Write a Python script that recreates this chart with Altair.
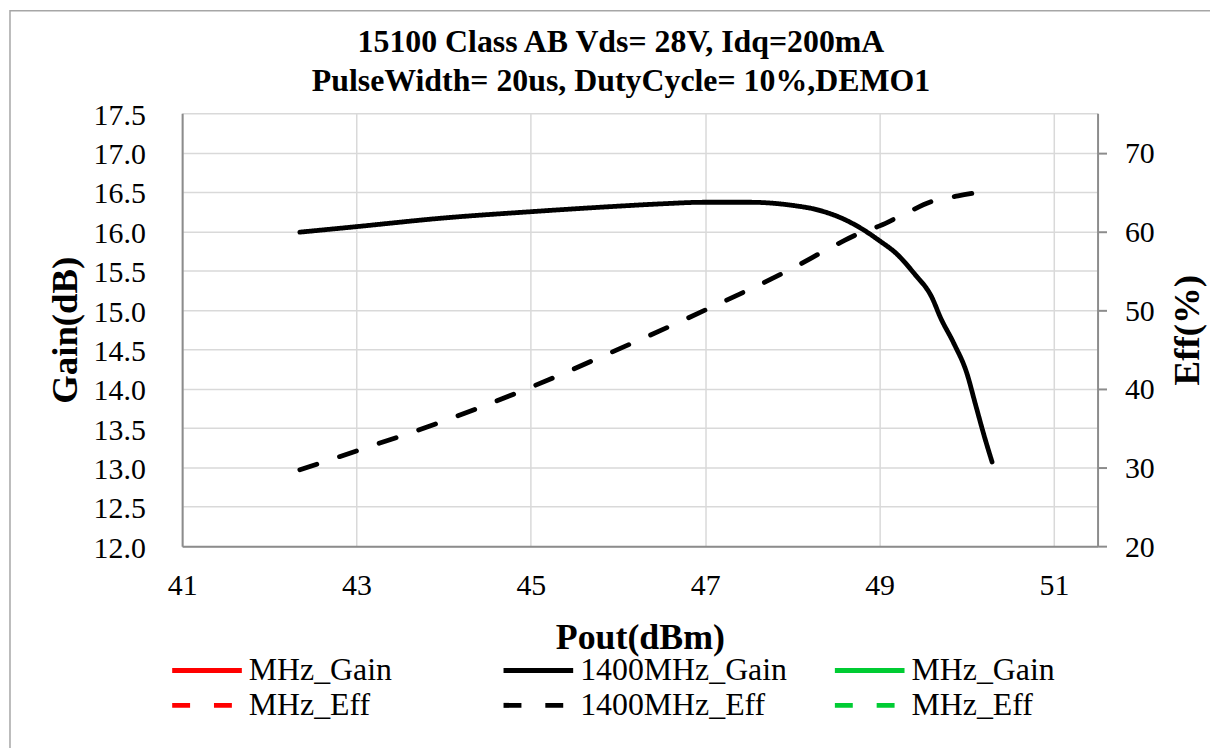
import altair as alt
import pandas as pd

# ---- data ----
title_lines = ["15100 Class AB Vds= 28V, Idq=200mA", "PulseWidth= 20us, DutyCycle= 10%,DEMO1"]

pout_gain = [42.35, 43.0, 44.0, 45.0, 46.0, 46.5, 47.0, 47.5, 48.0, 48.3, 48.6, 48.8, 49.0,
             49.2, 49.4, 49.6, 49.7, 49.85, 50.0, 50.1, 50.2, 50.29]
gain_1400 = [15.99, 16.06, 16.17, 16.25, 16.32, 16.35, 16.37, 16.37, 16.33, 16.27, 16.15, 16.03, 15.88,
             15.71, 15.46, 15.16, 14.9, 14.58, 14.2, 13.8, 13.4, 13.07]

pout_eff = [42.35, 43.0, 44.0, 45.0, 46.0, 47.0, 48.0, 48.5, 48.8, 49.0, 49.3, 49.6, 49.9, 50.1]
eff_1400 = [29.7, 32.1, 35.9, 40.2, 45.0, 50.0, 55.3, 58.3, 59.9, 60.7, 62.3, 63.8, 64.5, 64.9]

# legend order (filled column by column, two rows)
series_keys = ["a|MHz_Gain", "a|MHz_Eff", "b|1400MHz_Gain", "b|1400MHz_Eff", "c|MHz_Gain", "c|MHz_Eff"]
series_colors = ["#ff0000", "#ff0000", "#000000", "#000000", "#00cc33", "#00cc33"]
series_dashes = [[1, 0], [18, 24], [1, 0], [18, 24], [1, 0], [18, 24]]

x_ticks = [41, 43, 45, 47, 49, 51]
gain_ticks = [12.0, 12.5, 13.0, 13.5, 14.0, 14.5, 15.0, 15.5, 16.0, 16.5, 17.0, 17.5]
eff_ticks = [20, 30, 40, 50, 60, 70]

FONT = "Liberation Serif"
GRID = "#d9d9d9"
AXIS = "#8c8c8c"

gain_df = pd.DataFrame({"pout": pout_gain, "gain": gain_1400, "series": "b|1400MHz_Gain"})
eff_df = pd.DataFrame({"pout": pout_eff, "eff": eff_1400, "series": "b|1400MHz_Eff"})

legend = alt.Legend(
    title=None, orient="none", legendX=9, legendY=544, columns=3, gridAlign="all",
    columnPadding=38, rowPadding=3, padding=0,
    symbolType="M-3.5,0H3.5", symbolSize=400, symbolStrokeWidth=5,
    labelOffset=26, labelFontSize=32, labelFont=FONT, labelColor="#000000", labelLimit=500,
    labelExpr="split(datum.label, '|')[1]",
)

color = alt.Color("series:N", scale=alt.Scale(domain=series_keys, range=series_colors), legend=legend)
dash = alt.StrokeDash("series:N", scale=alt.Scale(domain=series_keys, range=series_dashes), legend=legend)

x_enc = alt.X(
    "pout:Q",
    scale=alt.Scale(domain=[41, 51.5], nice=False, zero=False),
    axis=alt.Axis(
        values=x_ticks, format="d", title="Pout(dBm)", titleFont=FONT, titleFontSize=36,
        titleFontWeight="bold", titleColor="#000000", titleBaseline="alphabetic", titleX=460, titleY=103,
        labelFont=FONT, labelFontSize=30, labelColor="#000000", labelBaseline="alphabetic",
        labelPadding=49, labelFlush=False, labelOverlap=False,
        ticks=False, tickSize=0, grid=True, gridColor=GRID, gridWidth=1.5,
        domainColor=AXIS, domainWidth=2,
    ),
)

line_style = dict(strokeWidth=4.8, strokeCap="round", strokeJoin="round", interpolate="monotone")

gain_layer = alt.Chart(gain_df).mark_line(**line_style).encode(
    x=x_enc,
    y=alt.Y(
        "gain:Q",
        scale=alt.Scale(domain=[12, 17.5], nice=False, zero=False),
        axis=alt.Axis(
            values=gain_ticks, format=".1f", title="Gain(dB)", titleFont=FONT, titleFontSize=37,
            titleFontWeight="bold", titleColor="#000000", titleAngle=270, titleBaseline="alphabetic",
            titleX=-106, titleY=217.5,
            labelFont=FONT, labelFontSize=30, labelColor="#000000", labelPadding=37, labelOffset=2,
            labelOverlap=False, labelFlush=False,
            ticks=False, tickSize=0, grid=True, gridColor=GRID, gridWidth=1.5,
            domainColor=AXIS, domainWidth=2,
        ),
    ),
    color=color,
    strokeDash=dash,
)

eff_layer = alt.Chart(eff_df).mark_line(**line_style).encode(
    x=x_enc,
    y=alt.Y(
        "eff:Q",
        scale=alt.Scale(domain=[20, 75], nice=False, zero=False),
        axis=alt.Axis(
            orient="right", values=eff_ticks, title="Eff(%)", titleFont=FONT, titleFontSize=37,
            titleFontWeight="bold", titleColor="#000000", titleAngle=270, titleBaseline="alphabetic",
            titleX=101, titleY=217.5,
            labelFont=FONT, labelFontSize=30, labelColor="#000000", labelPadding=18, labelOffset=1,
            labelOverlap=False, labelFlush=False,
            ticks=True, tickSize=9, tickColor=AXIS, tickWidth=2, grid=False,
            domainColor=AXIS, domainWidth=2,
        ),
    ),
    color=color,
    strokeDash=dash,
)

border = alt.Chart(alt.Data(values=[{"k": 1}])).mark_rect(
    fill="transparent", stroke="#a6a6a6", strokeWidth=1.5
).encode(
    x=alt.value(-173), x2=alt.value(1400), y=alt.value(-103), y2=alt.value(1000)
)

chart = alt.layer(border, gain_layer, eff_layer).resolve_scale(y="independent").properties(
    width=920,
    height=435,
    padding={"left": 175, "top": 104, "right": 113, "bottom": 201},
    autosize=alt.AutoSizeParams(type="none"),
    background="white",
    title=alt.TitleParams(
        text=title_lines, font=FONT, fontSize=32, fontWeight="bold", color="#000000",
        anchor="middle", frame="group", offset=0, dx=-19, dy=113, baseline="alphabetic", lineHeight=39,
    ),
).configure_view(stroke=None)

chart.save("out.html", embed_options={"renderer": "svg", "actions": False})
